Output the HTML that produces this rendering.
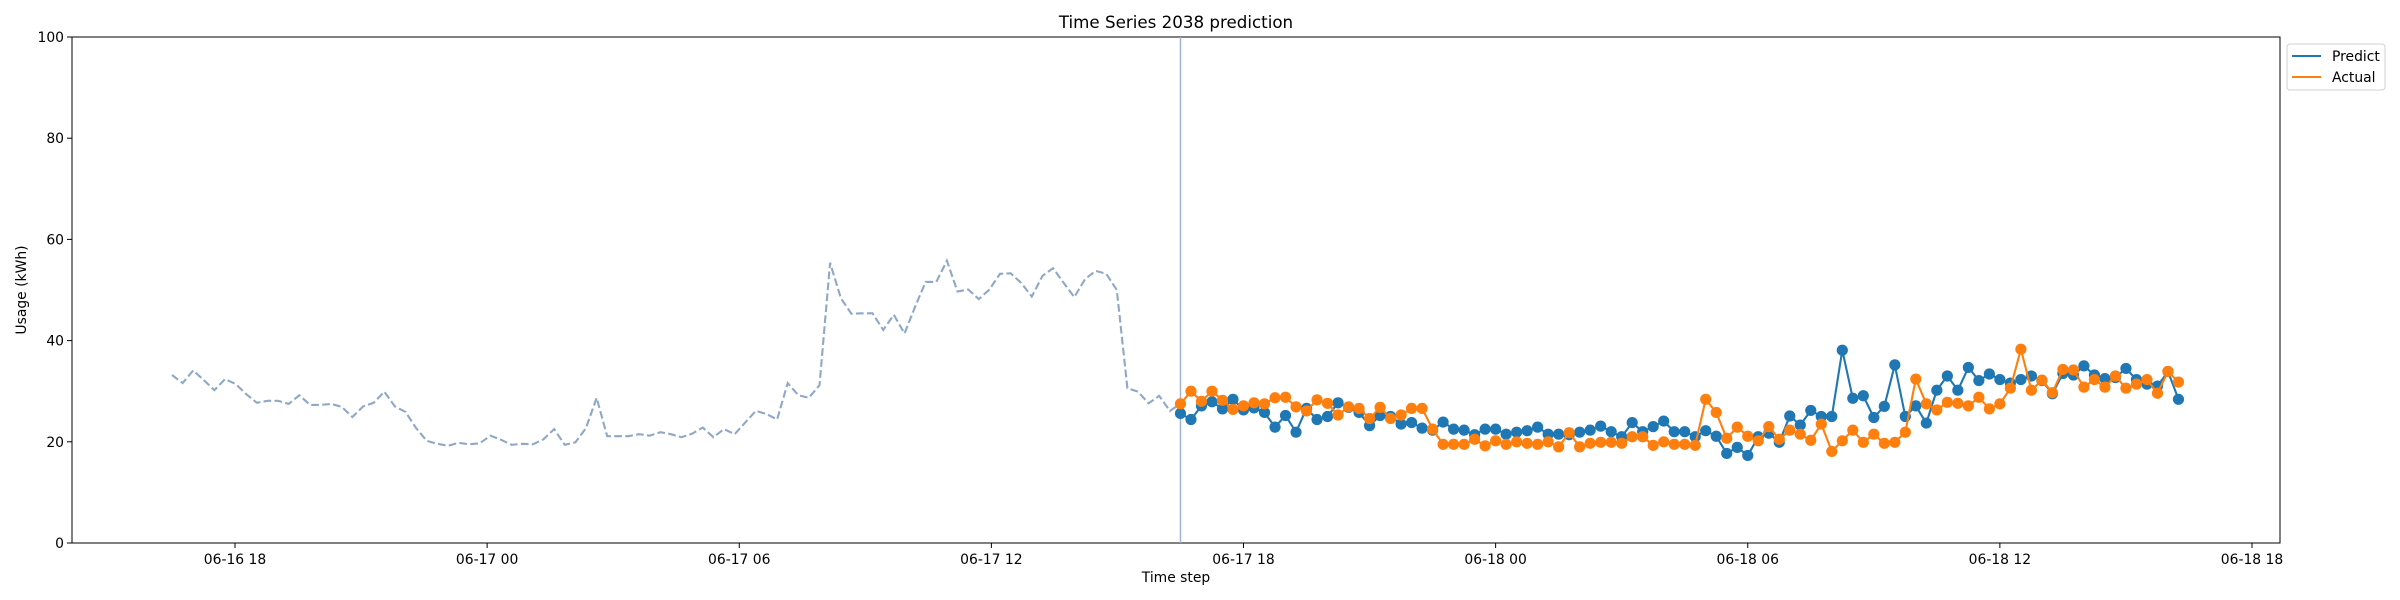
<!DOCTYPE html>
<html><head><meta charset="utf-8"><style>
html,body{margin:0;padding:0;background:#fff;}
svg{display:block;font-family:"DejaVu Sans","Liberation Sans",sans-serif;}
</style></head><body>
<svg id="chart" width="2400" height="600" viewBox="0 0 2400 600" xmlns="http://www.w3.org/2000/svg">
<rect x="0" y="0" width="2400" height="600" fill="#fff"/>
<text x="1176" y="28" text-anchor="middle" font-size="16.7">Time Series 2038 prediction</text>
<text x="1176" y="582" text-anchor="middle" font-size="13.9">Time step</text>
<text x="0" y="0" transform="translate(26,290) rotate(-90)" text-anchor="middle" font-size="13.9">Usage (kWh)</text>
<g id="plot"></g>
<g>
<rect x="2287" y="44" width="98" height="46" rx="3" fill="#fff" fill-opacity="0.8" stroke="#d0d0d0"/>
<line x1="2292" y1="56" x2="2321" y2="56" stroke="#1f77b4" stroke-width="2.1"/>
<text x="2332" y="61" font-size="13.9">Predict</text>
<line x1="2292" y1="77" x2="2321" y2="77" stroke="#ff7f0e" stroke-width="2.1"/>
<text x="2332" y="82" font-size="13.9">Actual</text>
</g>
</svg>
<script>
// times in hours since 06-16 00:00
const historyStart = 16.5;
const historyEnd = 40.5;
const forecastStart = 40.5;
const forecastStepHours = 0.25;
const xTickHours = [18, 24, 30, 36, 42, 48, 54, 60, 66];
const xTickLabels = ["06-16 18","06-17 00","06-17 06","06-17 12","06-17 18","06-18 00","06-18 06","06-18 12","06-18 18"];
const yTicks = [0, 20, 40, 60, 80, 100];
const historyValues = [33.2,31.6,34.1,32.2,30.2,32.4,31.4,29.4,27.7,28.1,28.1,27.5,29.2,27.3,27.3,27.5,26.9,24.9,27.0,27.7,29.9,27.0,25.9,22.7,20.2,19.6,19.2,19.8,19.5,19.7,21.2,20.4,
19.4,19.6,19.5,20.5,22.5,19.4,19.9,22.7,28.7,21.1,21.1,21.1,21.5,21.2,21.9,21.5,20.9,21.6,22.8,20.9,22.5,21.5,23.8,26.1,25.5,24.4,31.6,29.2,28.7,31.2,55.4,
48.4,45.3,45.4,45.4,42.1,45.1,41.4,46.7,51.6,51.6,55.8,49.7,50.1,48.2,50.1,53.2,53.3,51.4,48.7,52.8,54.3,51.4,48.6,52.1,53.8,53.2,50.0,30.6,29.9,27.6,29.1,26.1,27.5];
const predictValues = [25.6,24.4,27.1,27.9,26.5,28.4,26.3,26.7,25.8,22.9,25.2,21.9,26.6,24.4,25.0,27.7,26.8,25.8,23.2,25.2,25.0,23.5,23.8,22.7,
22.3,23.9,22.5,22.3,21.4,22.5,22.5,21.5,21.9,22.2,22.9,21.5,21.5,21.4,21.9,22.3,23.1,22.0,21.0,23.8,22.0,23.0,24.1,22.0,
22.0,21.0,22.2,21.1,17.7,18.9,17.3,21.0,21.7,19.9,25.1,23.3,26.2,25.0,25.0,38.1,28.6,29.1,24.8,27.0,35.2,25.0,27.1,23.7,
30.2,33.0,30.2,34.7,32.1,33.4,32.3,31.6,32.3,33.0,32.1,29.5,33.5,33.2,35.0,33.2,32.5,32.7,34.5,32.3,31.4,31.0,33.9,28.4];
const actualValues = [27.5,30.0,28.0,30.0,28.2,26.4,27.1,27.7,27.5,28.7,28.8,26.9,26.1,28.3,27.6,25.3,26.9,26.6,24.6,26.8,24.6,25.3,26.6,26.6,
22.5,19.5,19.5,19.5,20.5,19.2,20.2,19.5,20.0,19.7,19.5,20.0,19.0,21.8,19.0,19.7,19.9,19.9,19.7,21.0,21.0,19.3,20.0,19.5,
19.5,19.3,28.4,25.8,20.7,22.9,21.1,20.2,23.0,20.5,22.3,21.5,20.3,23.5,18.1,20.2,22.3,19.9,21.5,19.7,19.9,21.9,32.4,27.5,
26.3,27.8,27.6,27.1,28.8,26.5,27.5,30.6,38.3,30.2,32.2,29.7,34.3,34.2,30.8,32.3,30.8,33.0,30.6,31.4,32.3,29.6,33.9,31.8];

const L=72, R=2280, T=37, B=543;
const xScale = h => 235 + (h - 18) * (2252 - 235) / 48;
const yScale = v => B - (v / 100) * (B - T);
const NS = "http://www.w3.org/2000/svg";
const plot = document.getElementById('plot');
function mk(tag, attrs){const e=document.createElementNS(NS,tag);for(const k in attrs)e.setAttribute(k,attrs[k]);return e;}

// frame
const frame = mk('rect',{x:L,y:T,width:R-L,height:B-T,fill:'none',stroke:'#000','stroke-width':1});


plot.appendChild(frame);

xTickHours.forEach((h,i)=>{
  const x=xScale(h);
  const t=mk('line',{x1:x,y1:B,x2:x,y2:B+5,stroke:'#000','stroke-width':1});
  
  
  plot.appendChild(t);
  const lb=mk('text',{x:x,y:B+21,'text-anchor':'middle','font-size':13.9});
  
  
  lb.textContent=xTickLabels[i];
  plot.appendChild(lb);
});
yTicks.forEach(v=>{
  const y=yScale(v);
  const t=mk('line',{x1:L-5,y1:y,x2:L,y2:y,stroke:'#000','stroke-width':1});
  
  
  plot.appendChild(t);
  const lb=mk('text',{x:L-8,y:y+5,'text-anchor':'end','font-size':13.9});
  
  
  lb.textContent=String(v);
  plot.appendChild(lb);
});

// history dashed
const hn=historyValues.length;
const hPts=historyValues.map((v,i)=>xScale(historyStart+(historyEnd-historyStart)*i/(hn-1)).toFixed(1)+','+yScale(v).toFixed(1)).join(' ');
const hist=mk('polyline',{points:hPts,fill:'none',stroke:'#8fa8c6','stroke-width':2.1,'stroke-dasharray':'7.7,3.3'});


plot.appendChild(hist);

// vertical split line
const vx=xScale(forecastStart);
const vl=mk('line',{x1:vx,y1:T,x2:vx,y2:B,stroke:'#a3b1d3','stroke-width':1.5});


plot.appendChild(vl);

function series(vals,color,name){
  const g=mk('g',{});
  
  
  const pts=vals.map((v,i)=>xScale(forecastStart+i*forecastStepHours).toFixed(1)+','+yScale(v).toFixed(1)).join(' ');
  const pl=mk('polyline',{points:pts,fill:'none',stroke:color,'stroke-width':2.1});
  
  
  g.appendChild(pl);
  vals.forEach((v,i)=>{
    const c=mk('circle',{cx:xScale(forecastStart+i*forecastStepHours),cy:yScale(v),r:5.6,fill:color});
    
    
    g.appendChild(c);
  });
  plot.appendChild(g);
}
series(predictValues,'#1f77b4','predict');
series(actualValues,'#ff7f0e','actual');
</script>
</body></html>
